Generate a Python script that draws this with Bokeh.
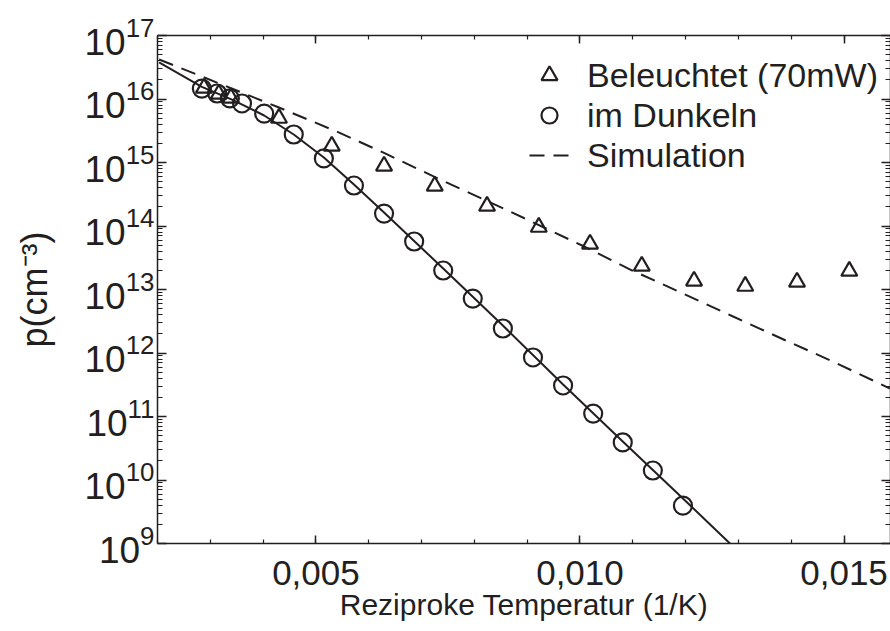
from bokeh.plotting import figure
from bokeh.models import (FixedTicker, LogAxis, LinearAxis, CustomJSTickFormatter,
                          Range1d, Legend, LegendItem, LogTickFormatter)
from bokeh.embed import file_html
from bokeh.resources import INLINE

# --- data ---
x_dunkel = [0.00284, 0.00313, 0.00337, 0.00360, 0.00402, 0.00458, 0.00515, 0.00572,
            0.00629, 0.00686, 0.00741, 0.00797, 0.00854, 0.00911, 0.00968, 0.01025,
            0.01081, 0.01138, 0.01195]
p_dunkel = [1.46e16, 1.22e16, 1.02e16, 8.5e15, 5.9e15, 2.76e15, 1.16e15, 4.34e14,
            1.57e14, 5.7e13, 1.99e13, 7.2e12, 2.43e12, 8.5e11, 3.08e11, 1.11e11,
            3.9e10, 1.41e10, 3.96e9]

x_beleuchtet = [0.00288, 0.00316, 0.00339, 0.00430, 0.00530, 0.00629, 0.00725, 0.00824,
                0.00922, 0.01019, 0.01117, 0.01216, 0.01313, 0.01411, 0.01510]
p_beleuchtet = [1.49e16, 1.20e16, 1.04e16, 5.0e15, 1.82e15, 8.8e14, 4.26e14, 2.06e14,
                9.6e13, 5.2e13, 2.34e13, 1.36e13, 1.13e13, 1.31e13, 1.95e13]

x_fit = [0.00203, 0.00284, 0.00341, 0.00402, 0.00458, 0.00515, 0.00572, 0.00629,
         0.00741, 0.00854, 0.00968, 0.01081, 0.01195, 0.01284, 0.01307]
p_fit = [3.76e16, 1.55e16, 9.8e15, 5.5e15, 2.76e15, 1.20e15, 4.51e14, 1.63e14,
         2.14e13, 2.71e12, 3.19e11, 4.04e10, 5.12e9, 1.0e9, 6.7e8]

x_sim = [0.00203, 0.00284, 0.00430, 0.00544, 0.00631, 0.00739, 0.00864, 0.01004,
         0.01099, 0.01195, 0.01290, 0.01390, 0.01483, 0.01587]
p_sim = [4.19e16, 2.26e16, 7.35e15, 2.96e15, 1.39e15, 5.21e14, 1.75e14, 4.93e13,
         1.99e13, 8.65e12, 3.76e12, 1.57e12, 7.08e11, 2.76e11]

x_major = [0.005, 0.010, 0.015]
x_minor = [0.002 + 0.001 * i for i in range(15)]
y_major = [10.0 ** k for k in range(9, 18)]
y_minor = [m * 10.0 ** k for k in range(9, 17) for m in range(2, 10)]

labels = ["Beleuchtet (70mW)", "im Dunkeln", "Simulation"]
x_title = "Reziproke Temperatur (1/K)"
y_title = "p(cm\u207b\u00b3)"

C = "#231f20"
FONT = "Liberation Sans"

p = figure(width=890, height=631, x_range=Range1d(0.002, 0.01588),
           y_range=Range1d(1e9, 1e17), y_axis_type="log",
           output_backend="svg", toolbar_location=None,
           min_border_left=157, min_border_right=0, min_border_top=35,
           min_border_bottom=88)
p.xgrid.visible = False
p.ygrid.visible = False
p.outline_line_color = None
p.background_fill_color = "white"
p.border_fill_color = "white"

p.add_layout(LinearAxis(), "above")
p.add_layout(LogAxis(), "right")

blank = CustomJSTickFormatter(code="return ''")

for ax in p.xaxis:
    ax.ticker = FixedTicker(ticks=x_major, minor_ticks=x_minor)
    ax.major_tick_in = 8
    ax.minor_tick_in = 4
for ax in p.yaxis:
    ax.ticker = FixedTicker(ticks=y_major, minor_ticks=y_minor)
    ax.major_tick_in = 9
    ax.minor_tick_in = 5

for ax in list(p.xaxis) + list(p.yaxis):
    ax.major_tick_out = 0
    ax.minor_tick_out = 0
    ax.axis_line_color = C
    ax.axis_line_width = 1.5
    ax.major_tick_line_color = C
    ax.minor_tick_line_color = C
    ax.major_tick_line_width = 1.5
    ax.minor_tick_line_width = 1.2
    ax.major_label_text_font = FONT
    ax.major_label_text_font_size = "37px"
    ax.major_label_text_color = C
    ax.axis_label_text_font = FONT
    ax.axis_label_text_font_style = "normal"
    ax.axis_label_text_color = C

bottom = p.below[0]
bottom.formatter = CustomJSTickFormatter(code="return tick.toFixed(3).replace('.', ',')")
bottom.major_label_text_font_size = "35px"
bottom.major_label_standoff = 17
bottom.axis_label = x_title
bottom.axis_label_text_font_size = "30px"
bottom.axis_label_standoff = 0

left = p.left[0]
left.formatter = LogTickFormatter()
left.major_label_standoff = 3
left.axis_label = y_title
left.axis_label_text_font_size = "36px"
left.axis_label_standoff = 27

for ax in (p.above[0], p.right[0]):
    ax.formatter = blank
    ax.major_label_standoff = 0
    ax.major_label_text_font_size = "1px"

r_fit = p.line(x_fit, p_fit, line_color=C, line_width=2)
r_sim = p.line(x_sim, p_sim, line_color=C, line_width=2, line_dash="15 9")
r_bel = p.scatter(x_beleuchtet, p_beleuchtet, marker="triangle", size=16,
                  fill_color=None, line_color=C, line_width=2.2)
r_dun = p.scatter(x_dunkel, p_dunkel, marker="circle", size=18,
                  fill_color=None, line_color=C, line_width=2.2)

legend = Legend(items=[LegendItem(label=labels[0], renderers=[r_bel]),
                       LegendItem(label=labels[1], renderers=[r_dun]),
                       LegendItem(label=labels[2], renderers=[r_sim])],
                location=(372, 368), border_line_color=None,
                background_fill_alpha=0, margin=0, padding=10, spacing=0,
                glyph_width=40, glyph_height=40, label_height=40,
                label_standoff=18, label_text_font=FONT,
                label_text_font_size="34px", label_text_color=C)
p.add_layout(legend, "center")

open("out.html", "w").write(file_html(p, INLINE))
